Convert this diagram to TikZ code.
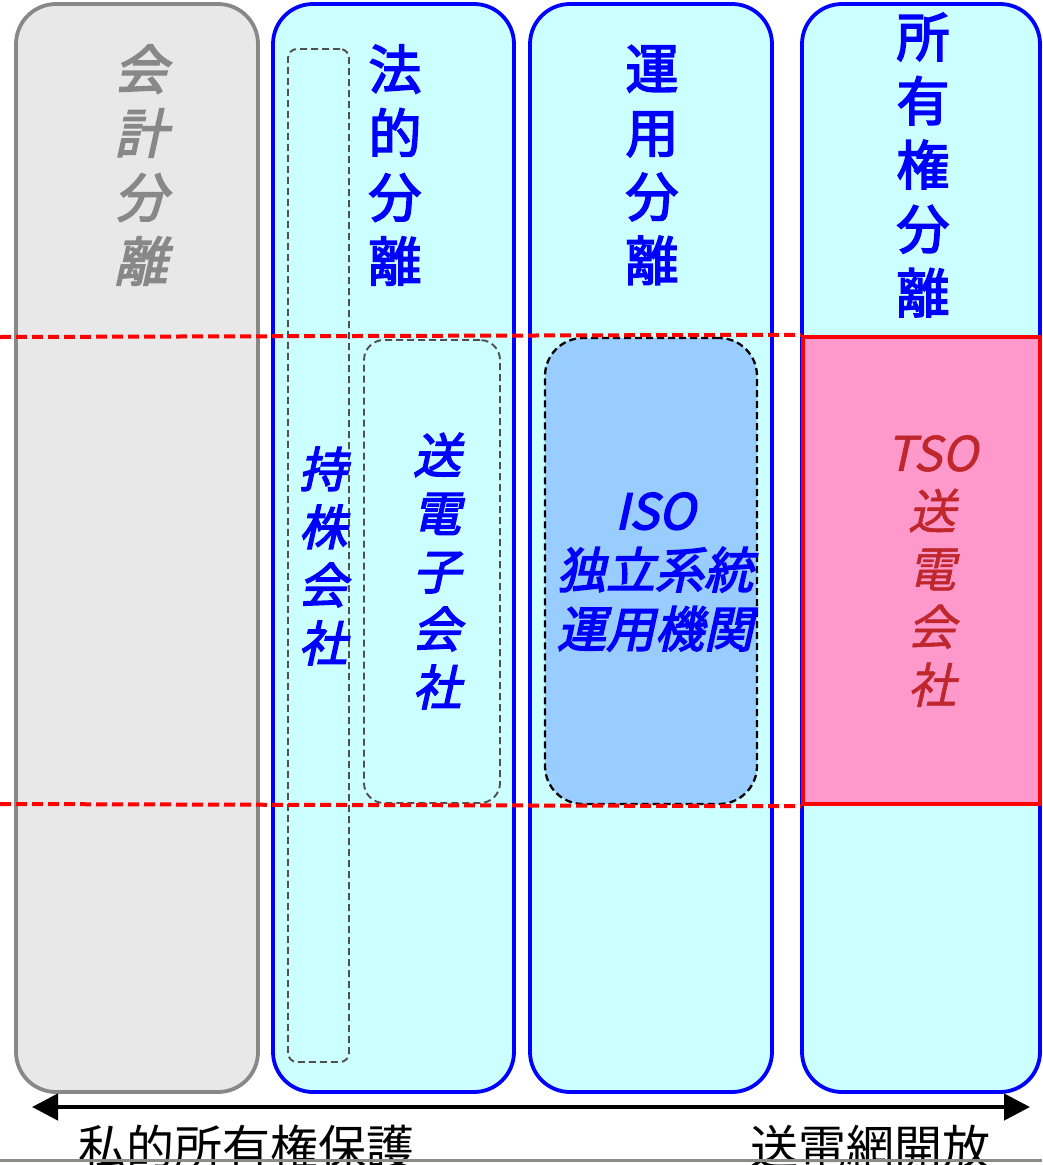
\documentclass[tikz,border=0pt]{standalone}
\usepackage{fontspec}
\newfontfamily\jp{Noto Sans CJK JP}
\newfontfamily\jpb[FakeBold=3]{Noto Sans CJK JP}
\newfontfamily\jpi[FakeSlant=0.22,FakeBold=3]{Noto Sans CJK JP}
\newfontfamily\jpil[FakeSlant=0.22,FakeBold=1]{Noto Sans CJK JP}
\usetikzlibrary{arrows.meta}
\definecolor{grayline}{HTML}{888888}
\definecolor{grayfill}{HTML}{E8E8E8}
\definecolor{cyanfill}{HTML}{CCFFFF}
\definecolor{isofill}{HTML}{99CCFF}
\definecolor{tsofill}{HTML}{FF99CC}
\definecolor{tsotext}{HTML}{C0272D}
\definecolor{dashgray}{HTML}{505050}
\definecolor{bottomline}{HTML}{8C8C86}
\tikzset{
  colbox/.style={draw, line width=3.8pt, rounded corners=40pt, inner sep=0pt, minimum height=1088pt},
  graycol/.style={colbox, draw=grayline, fill=grayfill},
  bluecol/.style={colbox, draw=blue, fill=cyanfill},
  holdbox/.style={draw=dashgray, line width=1.9pt, dash pattern=on 7pt off 4pt, rounded corners=9pt, inner sep=0pt},
  subbox/.style={draw=dashgray, line width=1.9pt, dash pattern=on 7pt off 4pt, rounded corners=20pt, inner sep=0pt},
  isobox/.style={draw=black, fill=isofill, line width=2.3pt, dash pattern=on 7pt off 4pt, rounded corners=38pt, inner sep=0pt},
  tsobox/.style={draw=red, fill=tsofill, line width=4.5pt, inner sep=0pt},
  redguide/.style={draw=red, line width=4pt, dash pattern=on 11pt off 5pt},
  headup/.style={align=center, inner sep=0pt, text=blue, font={\jpb\fontsize{53}{64}\selectfont}},
  headit/.style={align=center, inner sep=0pt, text=grayline, font={\jpi\fontsize{53}{64}\selectfont}},
  inner/.style={align=center, inner sep=0pt, font={\jpi\fontsize{48}{58}\selectfont}},
  bottomtxt/.style={inner sep=0pt, font={\jp\fontsize{48}{48}\selectfont}}
}
\begin{document}
\begin{tikzpicture}[x=1pt,y=-1pt]
\useasboundingbox (0,0) rectangle (1042,1165);
% columns
\node[graycol, minimum width=242pt] (acct) at (137,548) {};
\node[bluecol, minimum width=241pt] (legal) at (393.5,548) {};
\node[bluecol, minimum width=242pt] (oper) at (651,548) {};
\node[bluecol, minimum width=238pt] (own) at (921,548) {};
% inner boxes
\node[holdbox, minimum width=61pt, minimum height=1013pt] (hold) at (318.5,555.5) {};
\node[subbox, minimum width=136pt, minimum height=463pt] (sub) at (432,571.5) {};
\node[isobox, minimum width=212pt, minimum height=466pt] (iso) at (651,571) {};
\node[tsobox, minimum width=237pt, minimum height=467pt] (tso) at (921.5,570.5) {};
% guide lines
\coordinate (g1) at (0,337);
\coordinate (g2) at (0,804);
\draw[redguide] (g1) -- (tso.north west);
\draw[redguide] (g2) -- (tso.south west);
% headings
\node[headit] (tacct) at (141,165) {会\\計\\分\\離};
\node[headup] (tlegal) at (395,165) {法\\的\\分\\離};
\node[headup] (toper) at (652,165) {運\\用\\分\\離};
\node[headup] (town) at (923,165) {所\\有\\権\\分\\離};
% inner texts
\node[inner, text=blue] (thold) at (323,556) {持\\株\\会\\社};
\node[inner, text=blue] (tsub) at (437,571) {送\\電\\子\\会\\社};
\node[inner, text=blue, font={\jpi\fontsize{49}{59}\selectfont}] (tiso) at (655,572) {ISO\\独立系統\\運用機関};
\node[inner, text=tsotext, font={\jpil\fontsize{48}{58}\selectfont}] (ttso) at (932,571) {TSO\\送\\電\\会\\社};
% arrow
\coordinate (aL) at (32,1107);
\coordinate (aR) at (1030,1107);
\draw[line width=4.5pt, {Triangle[length=26pt,width=26pt]}-{Triangle[length=26pt,width=26pt]}] (aL) -- (aR);
% bottom labels
\node[bottomtxt, anchor=base west] (lpriv) at (78,1165) {私的所有権保護};
\node[bottomtxt, anchor=base west] (lopen) at (750,1165) {送電網開放};
\coordinate (bl1) at (0,1160);
\coordinate (bl2) at (1042,1160);
\draw[bottomline, line width=3pt] (bl1) -- (bl2);
\end{tikzpicture}
\end{document}
